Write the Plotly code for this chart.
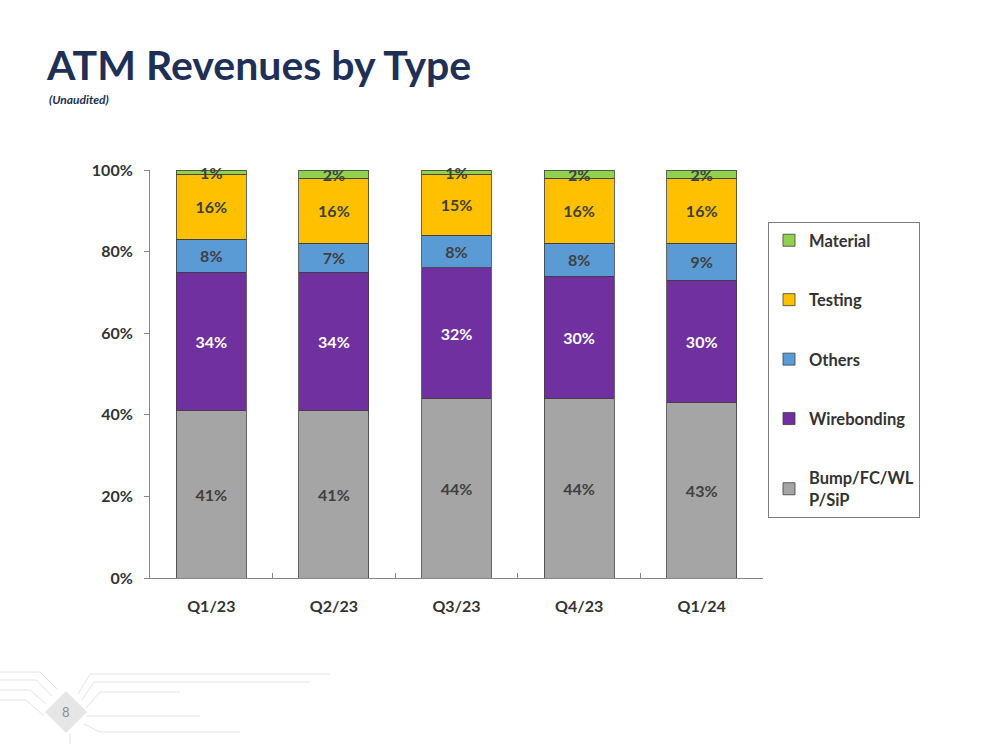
import plotly.graph_objects as go

categories = ["Q1/23", "Q2/23", "Q3/23", "Q4/23", "Q1/24"]
bump = [41, 41, 44, 44, 43]
wirebonding = [34, 34, 32, 30, 30]
others = [8, 7, 8, 8, 9]
testing = [16, 16, 15, 16, 16]
material = [1, 2, 1, 2, 2]

series = [
    ("Bump/FC/WL<br>P/SiP", bump, "#A5A5A5", "#404040"),
    ("Wirebonding", wirebonding, "#7030A0", "#FFFFFF"),
    ("Others", others, "#5B9BD5", "#404040"),
    ("Testing", testing, "#FFC000", "#404040"),
    ("Material", material, "#92D050", "#404040"),
]

FONT = "Lato"
fig = go.Figure()
n = len(series)
for i, (name, vals, color, tcolor) in enumerate(series):
    fig.add_trace(go.Bar(
        x=categories, y=vals, name=name,
        marker=dict(color=color, line=dict(color="#3F3F3F", width=0.8)),
        text=vals, texttemplate="<b>%{text}%</b>", textposition="inside",
        insidetextanchor="middle",
        textfont=dict(family=FONT, size=16, color=tcolor),
        legendgroup=f"g{n - i}",
        legendrank=n - i,
        cliponaxis=False,
    ))

L, R, T, B = 150, 237, 170, 174
W, H = 1000, 752
pw, ph = W - L - R, H - T - B

def px(x):
    return (x - L) / pw

def py(y):
    return (H - B - y) / ph

fig.update_layout(
    barmode="stack",
    bargap=0.43,
    width=W, height=H,
    margin=dict(l=L, r=R, t=T, b=B),
    plot_bgcolor="white", paper_bgcolor="white",
    font=dict(family=FONT, size=16, color="#404040"),
    uniformtext=dict(minsize=16, mode="show"),
    showlegend=True,
    legend=dict(
        x=px(768), y=py(222), xanchor="left", yanchor="top",
        traceorder="grouped", tracegroupgap=35,
        bordercolor="#7F7F7F", borderwidth=1,
        font=dict(family=FONT, size=16.5, color="#333333", weight="bold"),
        itemwidth=30,
    ),
    xaxis=dict(
        showline=True, linecolor="#868686", linewidth=1,
        ticks="inside", tickson="boundaries", ticklen=5, tickcolor="#868686",
        tickfont=dict(family=FONT, size=16, color="#333333", weight="bold"),
        ticklabelstandoff=14,
        showgrid=False,
    ),
    yaxis=dict(
        range=[0, 100], dtick=20, ticksuffix="%",
        showline=True, linecolor="#868686", linewidth=1,
        ticks="outside", ticklen=5, tickcolor="#868686",
        tickfont=dict(family=FONT, size=16, color="#333333", weight="bold"),
        ticklabelstandoff=8,
        showgrid=False, zeroline=False,
    ),
    title=dict(
        text="<b>ATM Revenues by Type</b>",
        x=47 / W, xanchor="left", y=1 - 66 / H, yanchor="middle",
        font=dict(family=FONT, size=41, color="#1F3057"),
    ),
)

fig.add_annotation(
    text="<b><i>(Unaudited)</i></b>", xref="paper", yref="paper",
    x=px(47), y=py(100), xanchor="left", yanchor="middle", showarrow=False,
    font=dict(family=FONT, size=12, color="#1F2F4F"),
)

# faint circuit-style decoration lines (bottom-left)
deco = [
    (0, 672, 40, 672, 58, 690), (0, 680, 36, 680, 52, 696),
    (0, 690, 30, 690, 46, 704), (0, 700, 26, 700, 44, 716),
    (78, 694, 90, 674, 330, 674), (82, 700, 94, 682, 310, 682),
    (86, 708, 100, 692, 180, 692), (86, 716, 100, 716, 200, 716),
    (84, 724, 100, 732, 240, 732), (70, 734, 70, 744, 70, 744),
]
for (x0, y0, x1, y1, x2, y2) in deco:
    fig.add_shape(
        type="path", xref="paper", yref="paper",
        path=f"M {px(x0)} {py(y0)} L {px(x1)} {py(y1)} L {px(x2)} {py(y2)}",
        line=dict(color="#E4E4E4", width=1), layer="below",
    )

# page number decoration
cx, cy, hs = 66, 712, 21
fig.add_shape(
    type="path", xref="paper", yref="paper",
    path=f"M {px(cx-hs)} {py(cy)} L {px(cx)} {py(cy-hs)} L {px(cx+hs)} {py(cy)} L {px(cx)} {py(cy+hs)} Z",
    fillcolor="#E6E6E6", line=dict(width=0), layer="below",
)
fig.add_annotation(
    text="8", xref="paper", yref="paper", x=px(cx), y=py(cy),
    xanchor="center", yanchor="middle",
    showarrow=False, font=dict(family=FONT, size=13, color="#8C8C8C"),
)

fig.write_html("out.html", config={"displayModeBar": False},
               post_script="document.body.style.margin='0';")
